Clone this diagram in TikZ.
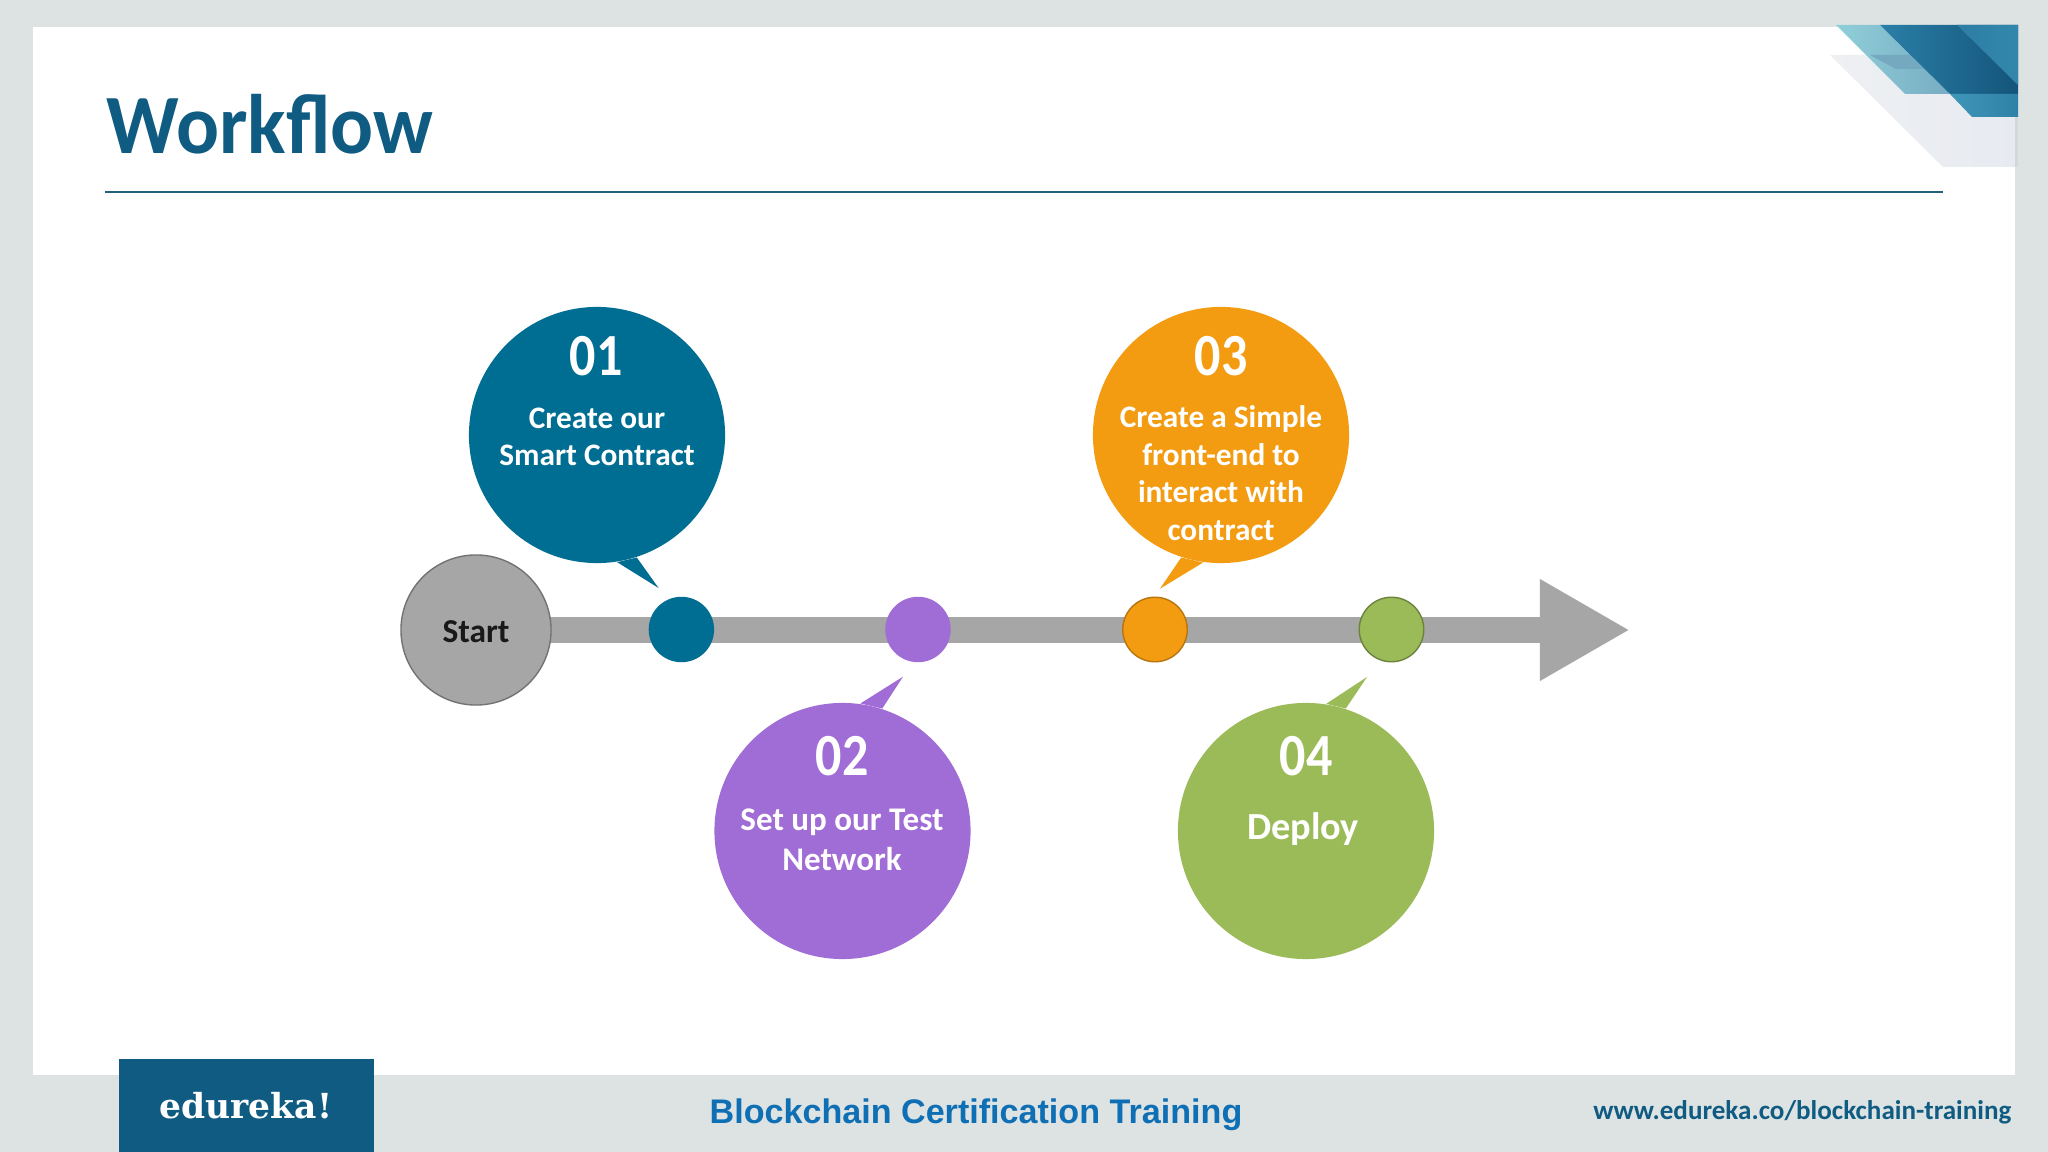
\documentclass[tikz,border=0pt]{standalone}
\usepackage{fontspec}
\setmainfont{Carlito}
\newfontfamily\numfont[FakeStretch=0.87]{Carlito}
\newfontfamily\titlefont[FakeStretch=0.95]{Carlito}
\newfontfamily\footfont{Liberation Sans}
\newfontfamily\brandfont{DejaVu Serif}
\usetikzlibrary{arrows.meta, backgrounds, calc}

\definecolor{framegray}{HTML}{DDE2E2}
\definecolor{inkblue}{HTML}{0F5B82}
\definecolor{rulecolor}{HTML}{24607A}
\definecolor{tonea}{HTML}{006E92}
\definecolor{toneb}{HTML}{A06CD5}
\definecolor{tonec}{HTML}{F39C12}
\definecolor{toned}{HTML}{9BBB59}
\definecolor{barcolor}{HTML}{A6A6A6}

\tikzset{
	bubble/.style = {circle, minimum size = 2.56 cm, inner sep = 0 pt},
	dot/.style = {circle, minimum size = 0.654 cm, inner sep = 0 pt},
	numtext/.style = {white, inner sep = 0 pt, font = \fontsize{17}{20}\numfont\bfseries},
	steptext/.style = {white, inner sep = 0 pt, align = center, font = \fontsize{8.9}{10.7}\selectfont\bfseries},
	widetext/.style = {white, inner sep = 0 pt, align = center, font = \fontsize{9.4}{11.4}\selectfont\bfseries},
	barline/.style = {barcolor, line width = 0.25 cm, -{Triangle[length=0.9cm, width=0.95cm]}}
}

\begin{document}
\begin{tikzpicture}[x = 0.01 cm, y = -0.01 cm]

	\useasboundingbox (0, 0) rectangle (2048, 1152);

	% Marker positions and end of the timeline

	\coordinate (arrowtip) at (1630, 630);
	\node (start) at (476, 630) [circle, minimum size = 1.5 cm, inner sep = 0 pt, fill = barcolor, draw = gray!90!black, text = black!90] {};
	\node (starttext) at (476, 632) [inner sep = 0 pt, font = \fontsize{9.5}{11}\selectfont\bfseries, text = black!90] {Start};
	\node (dota) at (681.4, 629.5) [dot, fill = tonea] {};
	\node (dotb) at (918, 629.5) [dot, fill = toneb] {};
	\node (dotc) at (1155, 629.5) [dot, minimum size = 0.645 cm, fill = tonec, draw = tonec!75!black] {};
	\node (dotd) at (1391.5, 629.5) [dot, minimum size = 0.645 cm, fill = toned, draw = toned!70!black] {};

	% Frame, corner decoration and timeline bar behind the markers

	\begin{scope}[on background layer]
		\fill [framegray] (0, 0) rectangle (2048, 1152);
		\fill [white] (32.5, 27) rectangle (2015, 1075);
		\path [left color = {rgb,255:red,238;green,240;blue,242}, right color = {rgb,255:red,231;green,234;blue,241}] (1830, 55) -- (1960, 55) -- (2018, 100) -- (2018, 167) -- (1943, 167) -- cycle;
		\fill [color = {rgb,255:red,212;green,215;blue,220}] (2015, 117) rectangle (2018, 167);
		\path [left color = {rgb,255:red,143;green,207;blue,216}, right color = {rgb,255:red,120;green,172;blue,195}] (1836, 25) -- (1880, 25) -- (1950, 94) -- (1905, 94) -- cycle;
		\fill [color = {rgb,255:red,116;green,169;blue,191}] (1870, 55) -- (1910, 55) -- (1924, 69) -- (1896, 69) -- cycle;
		\path [left color = {rgb,255:red,42;green,127;blue,168}, right color = {rgb,255:red,20;green,85;blue,122}] (1880, 25) -- (2018, 25) -- (2018, 94) -- (1950, 94) -- cycle;
		\path [left color = {rgb,255:red,46;green,125;blue,165}, right color = {rgb,255:red,50;green,135;blue,172}] (1957, 25) -- (2018, 25) -- (2018, 85) -- cycle;
		\path [left color = {rgb,255:red,64;green,151;blue,184}, right color = {rgb,255:red,46;green,129;blue,166}] (1950, 94) -- (2018, 94) -- (2018, 117) -- (1972, 117) -- cycle;
		\draw [barline] (start.center) -- (arrowtip);
	\end{scope}

	% Heading

	\node (title) at (106, 154) [anchor = base west, inner sep = 0 pt, inkblue, font = \fontsize{24}{30}\titlefont\bfseries] {Workflow};
	\draw [rulecolor, line width = 0.02 cm] (104.5, 191.7) -- (1943, 191.7);

	% Speech bubbles with their pointers

	\foreach \name/\cx/\cy/\tone/\anga/\angb/\tipx/\tipy in {
		bubblea/597/435/tonea/-81/-72/658.6/588,
		bubbleb/842.5/831/toneb/82/72.5/903/676.7,
		bubblec/1221/435/tonec/-108/-98/1160/588.7,
		bubbled/1306/831/toned/81.5/72/1367/677}
	{
		\node (\name) at (\cx, \cy) [bubble, fill = \tone] {};
		\coordinate (tip\name) at (\tipx, \tipy);
		\fill [\tone] (\name.\anga) -- (tip\name) -- (\name.\angb) -- cycle;
	}

	% Numbers and captions

	\node (numa) at (596, 356) [numtext] {01};
	\node (labela) at (597, 437) [steptext] {Create our\\Smart Contract};

	\node (numb) at (842, 756) [numtext] {02};
	\node (labelb) at (842, 840) [widetext] {Set up our Test\\Network};

	\node (numc) at (1221, 356) [numtext] {03};
	\node (labelc) at (1221, 473) [steptext] {Create a Simple\\front-end to\\interact with\\contract};

	\node (numd) at (1306, 756) [numtext] {04};
	\node (labeld) at (1303, 829) [widetext, font = \fontsize{10.9}{13}\selectfont\bfseries] {Deploy};

	% Footer

	\fill [inkblue] (119, 1059) rectangle (373.5, 1152);
	\node (brand) at (246, 1118) [anchor = base, inner sep = 0 pt, white, font = \fontsize{9.8}{12}\brandfont\bfseries] {edureka!};
	\node (course) at (976, 1123) [anchor = base, inner sep = 0 pt, color = {rgb,255:red,14;green,111;blue,181}, font = \fontsize{9.7}{12}\footfont\bfseries] {Blockchain Certification Training};
	\node (site) at (2012, 1119) [anchor = base east, inner sep = 0 pt, inkblue, font = \fontsize{7.7}{10}\selectfont\bfseries] {www.edureka.co/blockchain-training};

\end{tikzpicture}
\end{document}
